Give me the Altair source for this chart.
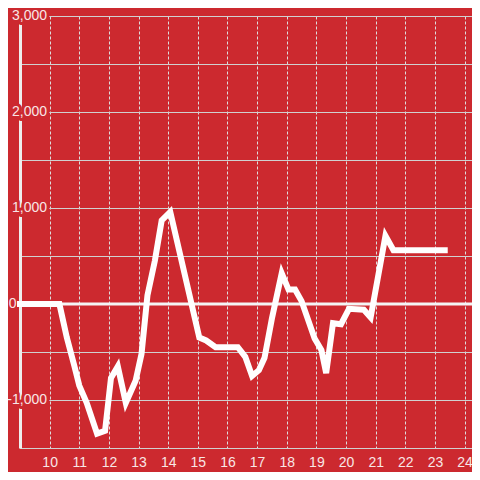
import altair as alt
import pandas as pd

# Data (hour of day, value)
hours = [9.0, 10.33, 10.58, 10.83, 11.0, 11.25, 11.6, 11.87, 12.07, 12.3, 12.57,
         12.9, 13.1, 13.3, 13.55, 13.78, 14.07, 15.05, 15.28, 15.6, 16.35, 16.6,
         16.83, 17.06, 17.25, 17.5, 17.83, 18.06, 18.28, 18.5, 18.94, 19.17, 19.33,
         19.56, 19.83, 20.1, 20.6, 20.83, 21.06, 21.33, 21.6, 23.33]
values = [0, 0, -350, -640, -850, -1030, -1350, -1320, -770, -650, -1030,
          -800, -520, 90, 450, 870, 960, -350, -380, -450, -450, -550,
          -750, -690, -560, -150, 320, 150, 150, 30, -360, -480, -720,
          -200, -210, -50, -60, -140, 250, 710, 560, 560]

y_label_values = [-1000, 0, 1000, 2000, 3000]
y_grid_values = [-1500, -1000, -500, 0, 500, 1000, 1500, 2000, 2500, 3000]
x_tick_values = list(range(10, 25))

BG = "#cc292f"
LABEL = "#f8e6e6"

df = pd.DataFrame({"hour": hours, "value": values})
labels_df = pd.DataFrame({"value": y_label_values})
zero_df = pd.DataFrame({"value": [0]})

xscale = alt.Scale(domain=[9, 24.25], nice=False, zero=False)
yscale = alt.Scale(domain=[-1500, 3000], nice=False)

xaxis = alt.Axis(values=x_tick_values, title=None, grid=True, gridDash=[3, 2],
                 gridColor="#dddddd", gridWidth=1, ticks=False, domain=False,
                 labelFontSize=14, labelColor=LABEL, labelPadding=7,
                 labelFont="Liberation Sans", labelOverlap=False)
yaxis = alt.Axis(values=y_grid_values, title=None, grid=True, gridColor="#d0d0d0",
                 gridWidth=1, ticks=False, labels=False, domain=True,
                 domainColor="#eeeeee", domainWidth=3)

x_enc = alt.X("hour:Q", scale=xscale, axis=xaxis)
y_enc = alt.Y("value:Q", scale=yscale, axis=yaxis)

label_expr = "datum.value < 0 ? '-' + format(-datum.value, ',') : format(datum.value, ',')"

zero_rule = alt.Chart(zero_df).mark_rule(color="#f4f4f4", strokeWidth=3).encode(y=y_enc)


def label_layers(test, xpos):
    base = alt.Chart(labels_df).transform_filter(test).transform_calculate(label=label_expr)
    halo = base.mark_text(
        align="right", baseline="middle", fontSize=14, font="Liberation Sans",
        fill=BG, stroke=BG, strokeWidth=6, strokeJoin="round"
    ).encode(y=y_enc, x=alt.value(xpos), text="label:N")
    txt = base.mark_text(
        align="right", baseline="middle", fontSize=14, font="Liberation Sans",
        color=LABEL
    ).encode(y=y_enc, x=alt.value(xpos), text="label:N")
    return [halo, txt]


lab_other = label_layers("datum.value != 0", 27)
lab_zero = label_layers("datum.value == 0", -3.5)

line = alt.Chart(df).mark_line(color="#ffffff", strokeWidth=6, strokeCap="square",
                               strokeJoin="miter").encode(x=x_enc, y=y_enc)

chart = alt.layer(zero_rule, *lab_other, *lab_zero, line).properties(
    width=452, height=432,
    background=BG,
    padding={"left": 12, "top": 8, "right": 0, "bottom": 24},
    autosize=alt.AutoSizeParams(type="none"),
).configure_view(stroke=None).configure(font="Liberation Sans")

chart.save("out.html", embed_options={"renderer": "svg", "actions": False})
